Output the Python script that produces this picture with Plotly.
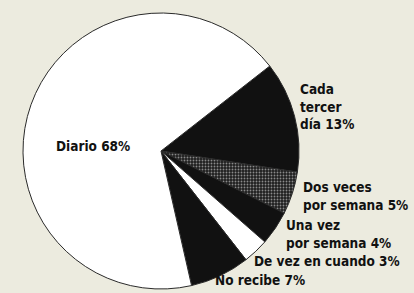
import plotly.graph_objects as go

categories = ["Cada<br>tercer<br>día", "Dos veces<br>por semana", "Una vez<br>por semana",
              "De vez en cuando", "No recibe", "Diario"]
values = [13, 5, 4, 3, 7, 68]
colors = ["#111111", "#2a2a2a", "#111111", "#ffffff", "#111111", "#ffffff"]
patterns = ["", ".", "", "", "", ""]

# label anchor positions (pixels from top-left of the figure) for labels
label_pos = {
    0: (298, 106),
    1: (301, 196),
    2: (284, 234),
    3: (252, 261),
    4: (213, 280),
    5: (54, 146),
}

W, H = 414, 293
fig = go.Figure(go.Pie(
    labels=categories,
    values=values,
    sort=False,
    direction="clockwise",
    rotation=52,
    marker=dict(colors=colors, line=dict(color="#2a2a2a", width=1),
                pattern=dict(shape=patterns, fgcolor="#8a8a8a", bgcolor="#1e1e1e", size=3, solidity=0.3)),
    textinfo="none",
    hoverinfo="label+percent",
    showlegend=False,
    domain=dict(x=[23 / W, 299 / W], y=[1 - 289 / H, 1 - 13 / H]),
))

font = dict(family="DejaVu Sans Condensed, Liberation Sans Narrow, sans-serif",
            size=13.5, color="#111111")
annotations = []
for i, (x, y) in label_pos.items():
    annotations.append(dict(
        text=f"<b>{categories[i]} {values[i]}%</b>",
        x=x / W, y=1 - y / H, xref="paper", yref="paper",
        xanchor="left", yanchor="middle", align="left", showarrow=False, font=font))

fig.update_layout(
    width=W, height=H,
    margin=dict(l=0, r=0, t=0, b=0),
    paper_bgcolor="#ecebdf",
    plot_bgcolor="#ecebdf",
    annotations=annotations,
)

fig.write_html(
    "out.html",
    config={"displayModeBar": False},
    post_script="document.body.style.margin='0';document.body.style.background='#ecebdf';",
)
